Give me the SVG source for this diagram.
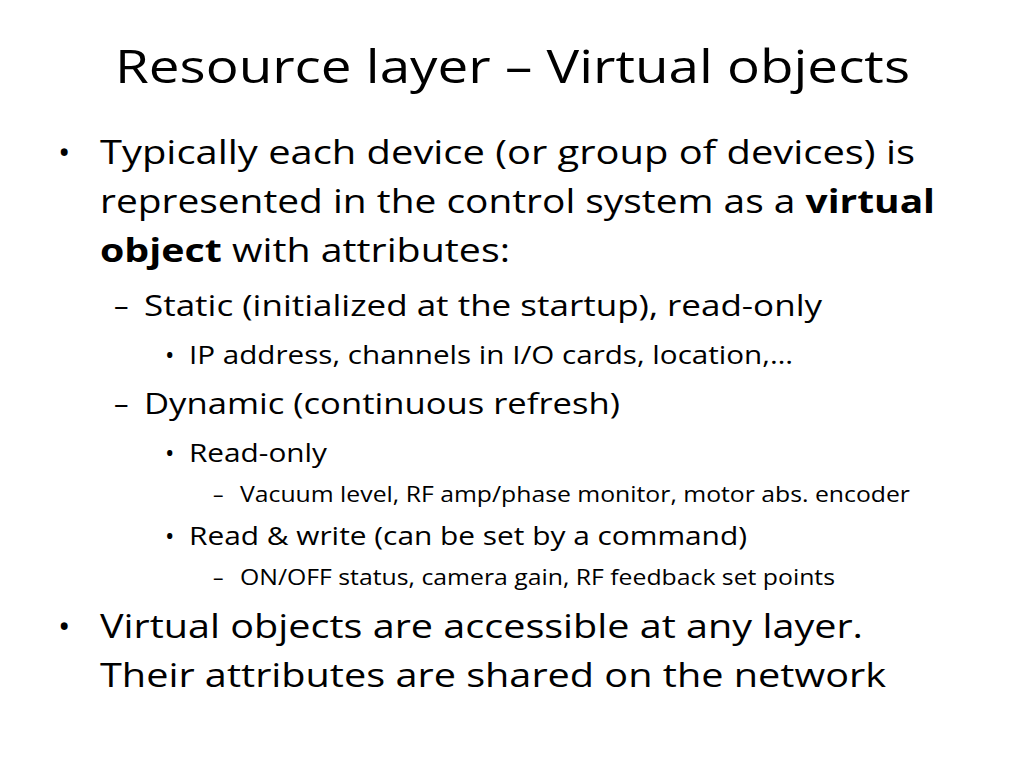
<svg xmlns="http://www.w3.org/2000/svg" width="1024" height="768" viewBox="0 0 1024 768">
<style>
text{font-family:"Open Sans","Liberation Sans",sans-serif;fill:#000}
.t{font-size:46px}
.l1{font-size:33px}
.l2{font-size:29px}
.l3{font-size:25px}
.l4{font-size:21px}
</style>
<rect width="1024" height="768" fill="#fff"/>
<g id="title"><text class="t" x="115" y="83" textLength="795" lengthAdjust="spacingAndGlyphs">Resource layer – Virtual objects</text></g>
<g id="body">
<text class="l1" x="58" y="164">•</text>
<text class="l1" x="100" y="164" textLength="815" lengthAdjust="spacingAndGlyphs">Typically each device (or group of devices) is</text>
<text class="l1" x="100" y="213" textLength="835" lengthAdjust="spacingAndGlyphs">represented in the control system as a <tspan font-weight="bold">virtual</tspan></text>
<text class="l1" x="100" y="262" textLength="410" lengthAdjust="spacingAndGlyphs"><tspan font-weight="bold">object</tspan> with attributes:</text>
<text class="l2" x="114" y="316">–</text>
<text class="l2" x="144" y="316" textLength="678" lengthAdjust="spacingAndGlyphs">Static (initialized at the startup), read-only</text>
<text class="l3" x="165" y="364">•</text>
<text class="l3" x="189" y="364" textLength="604" lengthAdjust="spacingAndGlyphs">IP address, channels in I/O cards, location,…</text>
<text class="l2" x="114" y="414">–</text>
<text class="l2" x="144" y="414" textLength="476" lengthAdjust="spacingAndGlyphs">Dynamic (continuous refresh)</text>
<text class="l3" x="165" y="462">•</text>
<text class="l3" x="189" y="462" textLength="138" lengthAdjust="spacingAndGlyphs">Read-only</text>
<text class="l4" x="213" y="502">–</text>
<text class="l4" x="240" y="502" textLength="670" lengthAdjust="spacingAndGlyphs">Vacuum level, RF amp/phase monitor, motor abs. encoder</text>
<text class="l3" x="165" y="545">•</text>
<text class="l3" x="189" y="545" textLength="558" lengthAdjust="spacingAndGlyphs">Read &amp; write (can be set by a command)</text>
<text class="l4" x="213" y="585">–</text>
<text class="l4" x="240" y="585" textLength="595" lengthAdjust="spacingAndGlyphs">ON/OFF status, camera gain, RF feedback set points</text>
<text class="l1" x="58" y="638">•</text>
<text class="l1" x="100" y="638" textLength="763" lengthAdjust="spacingAndGlyphs">Virtual objects are accessible at any layer.</text>
<text class="l1" x="100" y="687" textLength="786" lengthAdjust="spacingAndGlyphs">Their attributes are shared on the network</text>
</g>
</svg>
